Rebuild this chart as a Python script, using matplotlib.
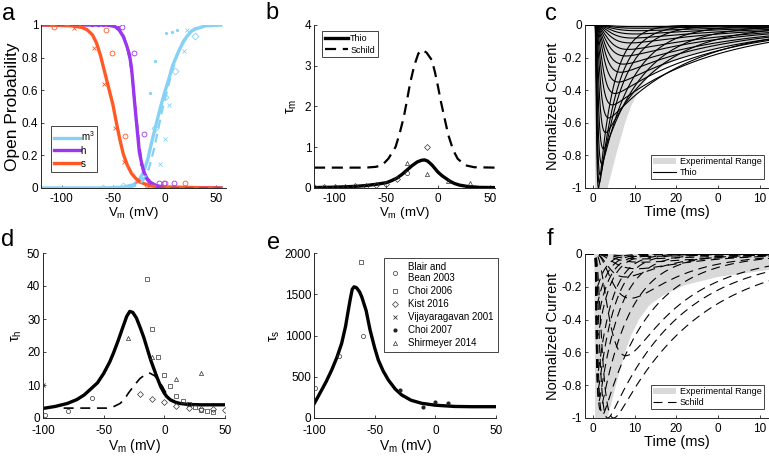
import numpy as np
import matplotlib.pyplot as plt
from matplotlib.patches import Patch
from matplotlib.lines import Line2D

plt.rcParams['font.family'] = ['Liberation Sans', 'DejaVu Sans']
plt.rcParams['axes.unicode_minus'] = False
plt.rcParams['mathtext.fontset'] = 'custom'
plt.rcParams['mathtext.rm'] = 'Liberation Sans'
plt.rcParams['mathtext.it'] = 'Liberation Sans:italic'
plt.rcParams['xtick.direction'] = 'in'
plt.rcParams['ytick.direction'] = 'in'
plt.rcParams['xtick.major.size'] = 2.5
plt.rcParams['ytick.major.size'] = 2.5
plt.rcParams['xtick.major.width'] = 0.6
plt.rcParams['ytick.major.width'] = 0.6
plt.rcParams['axes.linewidth'] = 0.7
plt.rcParams['xtick.labelsize'] = 8.5
plt.rcParams['ytick.labelsize'] = 8.5

# ---------------- panel a : steady state gating ----------------
a_m3_v = [-120, -60, -40, -30, -25, -20, -16, -12, -8, -4, 0, 4, 8, 14, 18, 22, 26, 30, 35, 40, 55]
a_m3 = [0, 0, 0.005, 0.02, 0.045, 0.1, 0.18, 0.29, 0.39, 0.49, 0.58, 0.66, 0.75, 0.84, 0.89, 0.93, 0.96, 0.975, 0.985, 0.995, 1]
a_m3s_v = [-120, -35, -25, -20, -15, -10, -6, -2, 2, 6, 10, 14, 18, 24, 30, 40, 55]
a_m3s = [0, 0, 0.02, 0.05, 0.12, 0.24, 0.36, 0.48, 0.58, 0.68, 0.77, 0.84, 0.9, 0.95, 0.98, 0.995, 1]
a_h_v = [-120, -55, -48, -44, -40, -37, -34, -32, -30.5, -29, -27.5, -26, -24.3, -22, -20, -17, -13.6, -8, 0, 55]
a_h = [1, 1, 0.99, 0.97, 0.93, 0.88, 0.82, 0.74, 0.64, 0.53, 0.43, 0.33, 0.22, 0.15, 0.1, 0.06, 0.035, 0.015, 0.005, 0]
a_hs_v = [-120, -50, -45, -40, -36, -33, -31, -29, -27, -25, -23, -21, -18, -14, -8, 0, 55]
a_hs = [1, 1, 0.98, 0.94, 0.86, 0.76, 0.66, 0.54, 0.42, 0.3, 0.2, 0.12, 0.06, 0.025, 0.008, 0, 0]
a_s_v = [-120, -90, -80, -75, -70, -66, -62, -58, -54, -50, -46, -43, -40, -36, -32, -28, -23, -15, -5, 55]
a_s = [1, 0.995, 0.985, 0.97, 0.94, 0.89, 0.81, 0.71, 0.61, 0.51, 0.38, 0.29, 0.21, 0.14, 0.09, 0.06, 0.035, 0.015, 0.005, 0]

# experimental points (panel a)
h_dot_v = [-70, -65, -60, -55, -50, -45, -23]
h_dot = [1, 1, 1, 1, 1, 0.99, 0.15]
h_circ_v = [-41, -30, -20, -5.5, 0, 9]
h_circ = [0.99, 0.83, 0.33, 0.03, 0.03, 0.03]
s_x_v = [-88, -68.6, -59, -47.6, -39.5, -26.5]
s_x = [0.98, 0.86, 0.64, 0.37, 0.16, 0.04]
s_circ_v = [-107, -57, -51, -38, -17, 1, 20]
s_circ = [0.99, 0.97, 0.83, 0.32, 0.02, 0.03, 0.03]
m_dot_v = [-21.7, -13.6, -8.7, 2, 7.4, 12]
m_dot = [0.06, 0.58, 0.78, 0.95, 0.96, 0.97]
m_x_v = [-4.5, 1, 5, 19, 22]
m_x = [0.15, 0.3, 0.51, 0.84, 0.97]
m_dia_v = [-60, -40, -8.7, 1, 10.7, 30]
m_dia = [0.0, 0.01, 0.37, 0.56, 0.72, 0.93]
m_plus_v = [-70, -50, 45, 51]
m_plus = [0.0, 0.0, 1.0, 1.0]

# ---------------- panel b : tau m ----------------
b_thio_v = [-120, -100, -80, -70, -60, -50, -45, -40, -35, -30, -25, -20, -16, -13, -10, -6, -3, 0, 4, 8, 12, 16, 21, 28, 40, 55]
b_thio = [0.01, 0.02, 0.04, 0.06, 0.09, 0.13, 0.18, 0.24, 0.33, 0.44, 0.55, 0.64, 0.68, 0.69, 0.66, 0.57, 0.48, 0.39, 0.3, 0.23, 0.16, 0.11, 0.07, 0.04, 0.015, 0.01]
b_schild_v = [-120, -70, -60, -54, -48, -41, -37, -33, -30, -27, -23, -19, -15, -11, -6, -3, 0, 3, 7, 10, 14.7, 19, 26, 35, 55]
b_schild = [0.5, 0.5, 0.52, 0.56, 0.72, 1.01, 1.35, 1.75, 2.15, 2.57, 3.0, 3.3, 3.39, 3.32, 3.14, 2.85, 2.49, 2.1, 1.64, 1.3, 0.93, 0.72, 0.56, 0.51, 0.5]
b_dia_v = [-120, -110, -100, -90, -80, -70, -60, -50, -40, -11]
b_dia = [0.02, 0.02, 0.02, 0.03, 0.04, 0.05, 0.08, 0.1, 0.22, 1.0]
b_circ_v = [-30]
b_circ = [0.36]
b_tri_v = [-29.5, -10.9, 9.9, 30.8]
b_tri = [0.62, 0.34, 0.18, 0.13]

# ---------------- panel c / f : current traces ----------------
exp_t = [0.3, 0.5, 3.5, 4.5, 5.5, 6.6, 7.7, 9.1, 11, 13.6, 17, 22, 30, 42.2, 42.2]
exp_i = [0, -1, -1, -0.9, -0.8, -0.7, -0.6, -0.5, -0.4, -0.31, -0.25, -0.19, -0.14, -0.097, 0]

# Thio traces: peak amplitude, activation and decay time constants (ms)
thio_amp = [1.0, 0.97, 0.92, 0.85, 0.76, 0.66, 0.57, 0.49, 0.42, 0.35, 0.29, 0.24, 0.19, 0.15, 0.11, 0.08, 0.055, 0.035, 0.02, 0.01]
thio_tm = [0.2, 0.25, 0.3, 0.38, 0.48, 0.6, 0.75, 0.95, 1.15, 1.4, 1.6, 1.8, 2.0, 2.2, 2.4, 2.6, 2.8, 3.0, 3.0, 3.0]
thio_th = [3.5, 4.5, 5.5, 7.5, 10, 13, 20, 24, 24, 25, 25, 26, 26, 27, 27, 28, 28, 30, 30, 30]

# Schild traces
schild_amp = [1.0, 1.0, 0.98, 0.95, 0.9, 0.82, 0.72, 0.62, 0.5, 0.4, 0.3, 0.27, 0.2, 0.14, 0.09, 0.05, 0.03, 0.015]
schild_tm = [1.1, 0.7, 0.4, 0.28, 0.2, 0.17, 0.15, 2.5, 0.14, 0.13, 0.12, 3.5, 0.12, 3.0, 4.0, 4.0, 4.0, 4.0]
schild_th = [20, 17, 11, 7, 5, 4, 3.5, 15, 3, 2.8, 2.5, 12, 2.2, 10, 15, 20, 20, 20]

tick_t = [0, 10, 20, 30, 40]
tick_t_lab = ['0', '10', '20', '0', '10']

# ---------------- panel d : tau h ----------------
d_thio_v = [-100, -90, -80, -72, -66, -60, -55, -50, -45, -42, -38, -34, -31, -28.5, -26, -23, -20, -17, -14.5, -11, -8, -6, -3, 0, 2, 5, 9, 13, 20, 30, 50]
d_thio = [2.9, 3.5, 4.4, 5.6, 7, 9, 10.7, 13.5, 17, 19.6, 23.5, 27.7, 30.8, 32.3, 32, 30.3, 27.5, 24.5, 21.5, 17.3, 14.3, 12.3, 9.5, 7.5, 6.5, 5.5, 4.8, 4.4, 4.1, 4, 4]
d_schild_v = [-83, -47.5, -42, -36.5, -33, -29.7, -25, -20, -15, -12, -8, -5, -1.5, 3]
d_schild = [3, 3, 3.4, 4.4, 5.6, 7.5, 9.8, 12, 13.3, 13.6, 12.8, 11.5, 9.5, 6.5]
d_circ_v = [-98.4, -79, -59.4]
d_circ = [0.9, 2.0, 6.0]
d_sq_v = [-14.5, -10, -5, 0, 5, 10, 15, 20, 25, 30, 35, 40]
d_sq = [42.1, 27, 18.4, 13, 9.7, 6.8, 5.2, 4.2, 3.4, 2.5, 2.2, 1.9]
d_dia_v = [-20, -10, 0, 10, 20, 30, 40, 50]
d_dia = [7.2, 5.7, 4.7, 3.6, 3.0, 2.7, 2.6, 2.5]
d_tri_v = [-30, -10, 10, 30]
d_tri = [24.2, 18.5, 11.7, 13.5]
d_x_v = [-100]
d_x = [10]

# ---------------- panel e : tau s ----------------
e_thio_v = [-100, -97, -93.7, -90, -85.4, -81, -77.2, -74, -71.7, -70, -68.5, -67, -65, -62.5, -60.7, -57, -53.8, -50, -47, -43, -38.7, -33, -27.7, -20, -11.2, 0, 16, 30, 50]
e_thio = [170, 250, 339, 440, 582, 740, 905, 1110, 1309, 1450, 1560, 1590, 1580, 1530, 1471, 1300, 1067, 850, 703, 570, 460, 350, 279, 215, 178, 155, 140, 137, 137]
e_circ_v = [-99.2, -79.1, -59.3]
e_circ = [360, 755, 998]
e_sq_v = [-61]
e_sq = [1891]
e_dot_v = [-29.1, -9.9, -0.2, 10.2]
e_dot = [339, 137, 198, 186]

c_m = '#86D2F6'
c_h = '#9B35EE'
c_s = '#FF5A26'
gray = '#D9D9D9'

W, H = 769, 466
fig = plt.figure(figsize=(W / 100, H / 100), dpi=100)


def box(l, r, t, b):
    return fig.add_axes([l / W, 1 - b / H, (r - l) / W, (b - t) / H])


def style(ax, xpad=3.5):
    ax.spines['top'].set_visible(False)
    ax.spines['right'].set_visible(False)
    for s in ['left', 'bottom']:
        ax.spines[s].set_color('#262626')
    ax.tick_params(colors='#262626', labelcolor='black', pad=2)
    ax.tick_params(axis='x', pad=xpad)


def trace(t, amp, tm, th, t0=0.5):
    x = np.clip(t - t0, 0, None)
    y = (1 - np.exp(-x / tm)) ** 3 * np.exp(-x / th)
    return -amp * y / y.max()


vlab = 'V$_\\mathrm{m}$ (mV)'

# a
ax = box(41, 226, 25, 188)
style(ax)
ax.plot(a_m3_v, a_m3, color=c_m, lw=2.4, label='m$^3$')
ax.plot(a_h_v, a_h, color=c_h, lw=2.4, label='h')
ax.plot(a_s_v, a_s, color=c_s, lw=2.4, label='s')
ax.plot(a_m3s_v, a_m3s, color=c_m, lw=1.6, ls=(0, (4, 2.5)))
ax.plot(a_hs_v, a_hs, color=c_h, lw=1.6, ls=(0, (4, 2.5)))
mk = dict(ls='none', ms=3.5, mew=0.6)
ax.plot(h_dot_v, h_dot, marker='.', color=c_h, **mk)
ax.plot(h_circ_v, h_circ, marker='o', mfc='none', mec=c_h, **mk)
ax.plot(s_x_v, s_x, marker='x', color=c_s, **mk)
ax.plot(s_circ_v, s_circ, marker='o', mfc='none', mec=c_s, **mk)
ax.plot(m_dot_v, m_dot, marker='.', color=c_m, **mk)
ax.plot(m_x_v, m_x, marker='x', color=c_m, **mk)
ax.plot(m_dia_v, m_dia, marker='D', mfc='none', mec=c_m, **mk)
ax.plot(m_plus_v, m_plus, marker='+', color=c_m, **mk)
ax.set_xlim(-120, 60)
ax.set_ylim(0, 1)
ax.set_xticks([-100, -50, 0, 50])
ax.set_yticks([0, 0.2, 0.4, 0.6, 0.8, 1])
ax.set_yticklabels(['0', '0.2', '0.4', '0.6', '0.8', '1'])
ax.set_xlabel(vlab, fontsize=9.5, labelpad=0)
ax.set_ylabel('Open Probability', fontsize=12.5, labelpad=1)
leg = ax.legend(loc='lower left', bbox_to_anchor=(0.03, 0.07), fontsize=7, handlelength=2.6,
                handletextpad=0.1, borderpad=0.3, labelspacing=0.3, fancybox=False, framealpha=1)
leg.get_frame().set_edgecolor('#262626')
leg.get_frame().set_linewidth(0.6)

# b
ax = box(314, 494.8, 25, 188)
style(ax)
ax.plot(b_thio_v, b_thio, color='black', lw=2.4, label='Thio')
ax.plot(b_schild_v, b_schild, color='black', lw=1.6, ls=(0, (5, 3)), label='Schild')
mk = dict(ls='none', ms=3, mew=0.5, mfc='none', mec='#333333')
ax.plot(b_dia_v, b_dia, marker='D', **mk)
ax.plot(b_circ_v, b_circ, marker='o', **mk)
ax.plot(b_tri_v, b_tri, marker='^', **mk)
ax.set_xlim(-120, 55)
ax.set_ylim(0, 4)
ax.set_xticks([-100, -50, 0, 50])
ax.set_yticks([0, 1, 2, 3, 4])
ax.set_xlabel(vlab, fontsize=9.5, labelpad=0)
ax.set_ylabel('τ$_\\mathrm{m}$', fontsize=10, labelpad=4)
leg = ax.legend(loc='upper left', bbox_to_anchor=(0.02, 0.99), fontsize=6.5, handlelength=2.6,
                handletextpad=0.2, borderpad=0.3, labelspacing=0.3, fancybox=False, framealpha=1)
leg.get_frame().set_edgecolor('#262626')
leg.get_frame().set_linewidth(0.6)

# c and f
tt = np.linspace(-2, 42.2, 3000)
for pos, amps, tms, ths, ls, name in [((584.7, 769, 25, 188), thio_amp, thio_tm, thio_th, '-', 'Thio'),
                                      ((584.7, 769, 254, 418), schild_amp, schild_tm, schild_th, (0, (8, 5)), 'Schild')]:
    ax = box(*pos)
    style(ax)
    ax.fill(exp_t, exp_i, color=gray, lw=0)
    for A, tm, th in zip(amps, tms, ths):
        ax.plot(tt, trace(tt, A, tm, th), color='black', lw=0.8, ls=ls)
    ax.set_xlim(-2, 42.2)
    ax.set_ylim(-1, 0)
    ax.set_xticks(tick_t)
    ax.set_xticklabels(tick_t_lab)
    ax.set_yticks([-1, -0.8, -0.6, -0.4, -0.2, 0])
    ax.set_yticklabels(['-1', '-0.8', '-0.6', '-0.4', '-0.2', '0'])
    ax.set_xlabel('Time (ms)', fontsize=10.5, labelpad=0)
    ax.set_ylabel('Normalized Current', fontsize=10.5, labelpad=1)
    hnd = [Patch(facecolor=gray, edgecolor='none'), Line2D([], [], color='black', lw=0.8, ls=ls)]
    leg = ax.legend(hnd, ['Experimental Range', name], loc='lower right', bbox_to_anchor=(0.995, 0.03),
                    fontsize=6.5, handlelength=2.6, handletextpad=0.4, borderpad=0.2, labelspacing=0.2,
                    fancybox=False, framealpha=1)
    leg.get_frame().set_edgecolor('#262626')
    leg.get_frame().set_linewidth(0.6)

# d
ax = box(43, 225, 253, 418)
style(ax, xpad=5)
ax.plot(d_thio_v, d_thio, color='black', lw=2.4)
ax.plot(d_schild_v, d_schild, color='black', lw=1.2, ls=(0, (6, 4)))
mk = dict(ls='none', ms=3, mew=0.5, mfc='none', mec='#333333')
ax.plot(d_circ_v, d_circ, marker='o', **mk)
ax.plot(d_sq_v, d_sq, marker='s', **mk)
ax.plot(d_dia_v, d_dia, marker='D', **mk)
ax.plot(d_tri_v, d_tri, marker='^', **mk)
ax.plot(d_x_v, d_x, marker='x', ls='none', ms=3, mew=0.6, color='#333333')
ax.set_xlim(-100, 50)
ax.set_ylim(0, 50)
ax.set_xticks([-100, -50, 0, 50])
ax.set_yticks([0, 10, 20, 30, 40, 50])
ax.set_xlabel(vlab, fontsize=10, labelpad=0)
ax.set_ylabel('τ$_\\mathrm{h}$', fontsize=10, labelpad=2)

# e
ax = box(314, 496, 253, 418)
style(ax, xpad=5)
ax.plot(e_thio_v, e_thio, color='black', lw=2.4)
ax.plot(e_circ_v, e_circ, marker='o', label='Blair and\nBean 2003', **mk)
ax.plot(e_sq_v, e_sq, marker='s', label='Choi 2006', **mk)
ax.plot([], [], marker='D', label='Kist 2016', **mk)
ax.plot([], [], marker='x', ls='none', ms=3, mew=0.6, color='#333333', label='Vijayaragavan 2001')
ax.plot(e_dot_v, e_dot, marker='.', ls='none', ms=4, color='#222222', label='Choi 2007')
ax.plot([], [], marker='^', label='Shirmeyer 2014', **mk)
ax.set_xlim(-100, 50)
ax.set_ylim(0, 2000)
ax.set_xticks([-100, -50, 0, 50])
ax.set_yticks([0, 500, 1000, 1500, 2000])
ax.set_xlabel(vlab, fontsize=10, labelpad=0)
ax.set_ylabel('τ$_\\mathrm{s}$', fontsize=10, labelpad=2)
leg = ax.legend(loc='upper right', bbox_to_anchor=(1.035, 1.0), fontsize=7, handlelength=1.6,
                handletextpad=0.5, borderpad=0.4, labelspacing=0.3, fancybox=False, framealpha=1)
leg.get_frame().set_edgecolor('#262626')
leg.get_frame().set_linewidth(0.6)

for s, x, y in [('a', 2, 14), ('b', 265, 13), ('c', 545, 14), ('d', 1, 240), ('e', 267, 243), ('f', 547, 239)]:
    fig.text(x / W, 1 - y / H, s, fontsize=17, ha='left', va='center')

fig.savefig('out.png', dpi=100)
